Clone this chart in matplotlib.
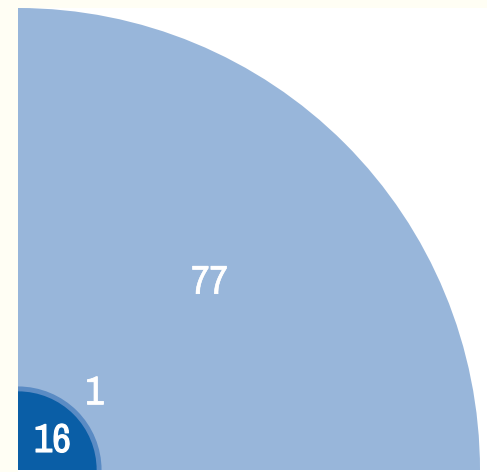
import matplotlib
matplotlib.use("Agg")
import matplotlib.pyplot as plt
from matplotlib.patches import Wedge
import matplotlib.patheffects as pe
import numpy as np

# data
labels = ["16", "1", "77"]
values = [16, 1, 77]
colors = ["#0a5ea6", "#5a8bc4", "#98b6da"]
text_colors = ["white", "white", "white"]

W, H = 487, 472
fig = plt.figure(figsize=(W / 100, H / 100), dpi=100)
fig.patch.set_facecolor("#fffef4")

cum = np.cumsum(values)
total = cum[-1]
s = 462 / total  # px per unit
left_px, top_px, bottom_px = 18, 8, 2
ax = fig.add_axes([left_px / W, 0, 1 - left_px / W, (H - top_px) / H])
ax.set_facecolor("white")
ax.set_xlim(0, (W - left_px) / s)
ax.set_ylim(-bottom_px / s, (H - top_px - bottom_px) / s)
ax.axis("off")
ax.add_patch(plt.Rectangle((0, -10), 200, 200, color="white", zorder=0))

for i in range(len(values) - 1, -1, -1):
    ax.add_patch(Wedge((0, 0), cum[i], 0, 90, facecolor=colors[i], edgecolor="none", zorder=1 + (len(values) - i)))

# label positions (data coords)
pos = [(7.0, 6.0), (15.6, 15.7), (39.0, 38.2)]
strokes = [0.8, 0.6, 0.4]
for lab, (x, y), c, sw in zip(labels, pos, text_colors, strokes):
    ax.text(x, y, lab, color=c, fontsize=29, ha="center", va="center", zorder=10,
            family=["Archivo Narrow", "DejaVu Sans"],
            path_effects=[pe.withStroke(linewidth=sw, foreground=c)])

fig.savefig("out.png", dpi=100, facecolor=fig.get_facecolor())
